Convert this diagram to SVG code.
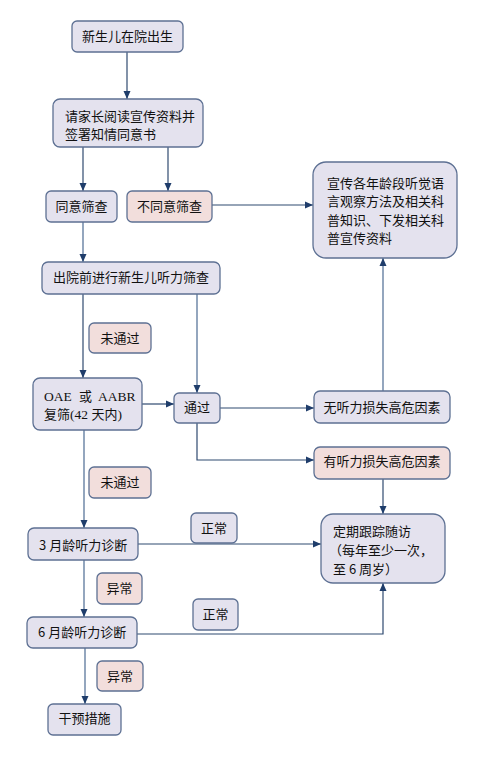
<svg xmlns="http://www.w3.org/2000/svg" width="494" height="762" viewBox="0 0 494 762">
<style>
.n{fill:#e4e2ee;stroke:#5d7093;stroke-width:1.3}
.p{fill:#f2dedc;stroke:#5d7093;stroke-width:1.3}
.t{font-family:"Noto Sans CJK SC","Liberation Sans",sans-serif;font-size:13px;fill:#111}
.s{font-family:"Liberation Serif","Noto Sans CJK SC",serif;font-size:13.5px;fill:#111}
.c{text-anchor:middle}
.d{fill:none;stroke:#2f4a70;stroke-width:1.2;marker-end:url(#a)}
.l{fill:none;stroke:#7990ae;stroke-width:1.6;marker-end:url(#a)}
</style>
<defs>
<marker id="a" markerUnits="userSpaceOnUse" markerWidth="8" markerHeight="8" refX="8" refY="4" orient="auto">
<path d="M0,0.5 L8,4 L0,7.5 z" fill="#1f3d6b"/>
</marker>
</defs>
<rect width="494" height="762" fill="#fff"/>
<g id="connectors">
<path class="d" d="M127,52 V99"/>
<path class="d" d="M83,147 V191"/>
<path class="d" d="M168,147 V191"/>
<path class="d" d="M212,205 H313"/>
<path class="l" d="M83,222 V262"/>
<path class="d" d="M83,294 V378"/>
<path class="l" d="M197,294 V393"/>
<path class="d" d="M142,404 H174"/>
<path class="d" d="M220,408 H314"/>
<path class="d" d="M197,423 V460 H314"/>
<path class="l" d="M383,391 V258"/>
<path class="d" d="M383,479 V514"/>
<path class="l" d="M84,430 V528"/>
<path class="d" d="M138,544 H321"/>
<path class="l" d="M84,560 V617"/>
<path class="d" d="M137,634 H383 V583"/>
<path class="l" d="M85,648 V704"/>
</g>
<g id="n1"><rect class="n" x="72" y="21" width="111" height="31" rx="5"/><text class="t c" x="127.5" y="41">新生儿在院出生</text></g>
<g id="n2"><rect class="n" x="53" y="99" width="150" height="48" rx="7"/><text class="t" x="65" y="121">请家长阅读宣传资料并</text><text class="t" x="65" y="139">签署知情同意书</text></g>
<g id="n3"><rect class="n" x="46" y="191" width="71" height="31" rx="5"/><text class="t c" x="81.5" y="210.5">同意筛查</text></g>
<g id="n4"><rect class="p" x="127" y="191" width="85" height="31" rx="5"/><text class="t c" x="169.5" y="210.5">不同意筛查</text></g>
<g id="n5"><rect class="n" x="313" y="162" width="144" height="96" rx="13"/><text class="t" x="327" y="187.5">宣传各年龄段听觉语</text><text class="t" x="327" y="206">言观察方法及相关科</text><text class="t" x="327" y="224.5">普知识、下发相关科</text><text class="t" x="327" y="243">普宣传资料</text></g>
<g id="n6"><rect class="n" x="42" y="262" width="178" height="32" rx="6"/><text class="t" x="53" y="282">出院前进行新生儿听力筛查</text></g>
<g id="n7"><rect class="p" x="89" y="323" width="62" height="30" rx="5"/><text class="t c" x="120" y="343">未通过</text></g>
<g id="n8"><rect class="n" x="33" y="378" width="109" height="52" rx="7"/><text class="s" y="400.5"><tspan x="44">OAE</tspan><tspan x="79" font-family="Noto Sans CJK SC" font-size="13px">或</tspan><tspan x="98">AABR</tspan></text><text class="s" y="418.5" x="44"><tspan font-family="Noto Sans CJK SC" font-size="13px">复筛</tspan>(42 <tspan font-family="Noto Sans CJK SC" font-size="13px">天内</tspan>)</text></g>
<g id="n9"><rect class="n" x="174" y="393" width="46" height="30" rx="5"/><text class="t c" x="197" y="412">通过</text></g>
<g id="n10"><rect class="n" x="314" y="391" width="136" height="32" rx="6"/><text class="t c" x="382" y="412">无听力损失高危因素</text></g>
<g id="n11"><rect class="p" x="314" y="447" width="136" height="32" rx="6"/><text class="t c" x="382" y="466">有听力损失高危因素</text></g>
<g id="n12"><rect class="p" x="89" y="467" width="62" height="31" rx="5"/><text class="t c" x="120" y="487">未通过</text></g>
<g id="n13"><rect class="n" x="28" y="528" width="110" height="32" rx="6"/><text class="t" x="39" y="549.5">3 月龄听力诊断</text></g>
<g id="n14"><rect class="n" x="191" y="513" width="46" height="30" rx="5"/><text class="t c" x="214" y="533">正常</text></g>
<g id="n15"><rect class="n" x="321" y="514" width="124" height="69" rx="12"/><text class="t" x="333" y="536">定期跟踪随访</text><text class="t" x="329" y="555">（每年至少一次，</text><text class="t" x="333" y="574">至 6 周岁）</text></g>
<g id="n16"><rect class="p" x="97" y="573" width="45" height="31" rx="5"/><text class="t c" x="119.5" y="593">异常</text></g>
<g id="n17"><rect class="n" x="27" y="617" width="110" height="31" rx="6"/><text class="t" x="38" y="637">6 月龄听力诊断</text></g>
<g id="n18"><rect class="n" x="193" y="599" width="45" height="31" rx="5"/><text class="t c" x="215.5" y="619">正常</text></g>
<g id="n19"><rect class="p" x="97" y="661" width="46" height="30" rx="5"/><text class="t c" x="120" y="680.5">异常</text></g>
<g id="n20"><rect class="n" x="48" y="704" width="73" height="31" rx="5"/><text class="t c" x="84.5" y="723">干预措施</text></g>
</svg>
